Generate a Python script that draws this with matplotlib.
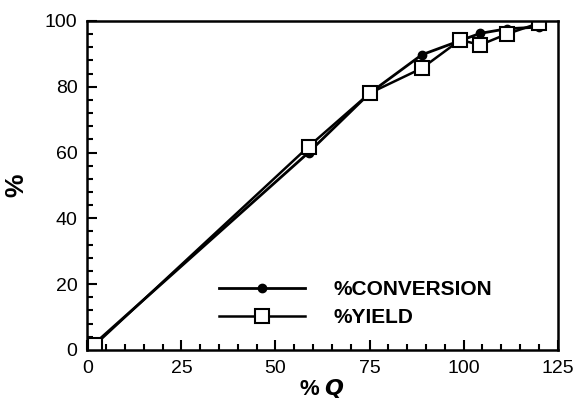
import matplotlib
matplotlib.use('Agg')
import matplotlib.pyplot as plt
from matplotlib.ticker import MultipleLocator

plt.rcParams['font.family'] = ['Liberation Sans', 'DejaVu Sans']

# data
q_conv = [2, 58.8, 75, 88.9, 99.1, 104.4, 111.5, 120]
conversion = [2, 60, 78, 89.7, 94, 96.2, 97.6, 98.1]
q_yield = [2, 58.8, 75, 88.9, 99.1, 104.4, 111.5, 120]
yield_ = [1.5, 61.8, 78, 85.6, 94.2, 92.7, 96, 99.3]

x_ticks = [0, 25, 50, 75, 100, 125]
y_ticks = [0, 20, 40, 60, 80, 100]

fig = plt.figure(figsize=(5.8, 4.09), dpi=100)
ax = fig.add_axes([0.1505, 0.1443, 0.8111, 0.8047])

ax.plot(q_conv, conversion, color='black', lw=2, marker='o', ms=6,
        mfc='black', mec='black', label='%CONVERSION')
ax.plot(q_yield, yield_, color='black', lw=1.8, marker='s', ms=10,
        mfc='white', mec='black', mew=1.5, label='%YIELD')

ax.set_xlim(0, 125)
ax.set_ylim(0, 100)
ax.set_xticks(x_ticks)
ax.set_yticks(y_ticks)
ax.xaxis.set_minor_locator(MultipleLocator(5))
ax.yaxis.set_minor_locator(MultipleLocator(4))
ax.tick_params(which='both', direction='in', top=False, right=False,
               width=1.5, labelsize=14)
ax.tick_params(which='major', length=7, pad=7)
ax.tick_params(which='minor', length=4)
for s in ax.spines.values():
    s.set_linewidth(1.8)

ax.set_xlabel('% $\\mathbfit{Q}$', fontsize=16, fontweight='bold', labelpad=0)
ax.set_ylabel('%', fontsize=19, fontweight='bold', labelpad=12)

ax.legend(loc='lower left', bbox_to_anchor=(0.241, 0.012), frameon=False,
          handlelength=4.1, handletextpad=1.4, labelspacing=0.45,
          prop={'weight': 'bold', 'size': 15})

fig.savefig('out.png', dpi=100)
